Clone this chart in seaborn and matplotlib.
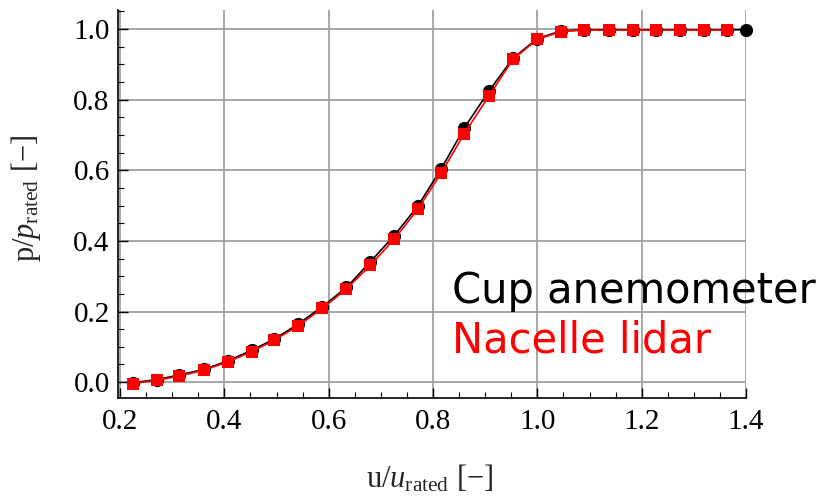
import matplotlib
matplotlib.use("Agg")
import matplotlib.pyplot as plt
import seaborn as sns
import numpy as np
import pandas as pd
from matplotlib.ticker import MultipleLocator

# data
u_cup = [0.224, 0.270, 0.313, 0.361, 0.406, 0.452, 0.496, 0.542, 0.588, 0.634,
         0.680, 0.725, 0.771, 0.816, 0.860, 0.907, 0.953, 1.000, 1.046, 1.090,
         1.137, 1.183, 1.228, 1.273, 1.320, 1.364, 1.400]
p_cup = [-0.002, 0.007, 0.020, 0.036, 0.060, 0.090, 0.122, 0.165, 0.214, 0.268,
         0.341, 0.414, 0.499, 0.605, 0.720, 0.824, 0.917, 0.973, 0.995, 0.998,
         0.998, 0.998, 0.998, 0.998, 0.998, 0.998, 0.998]
u_lidar = u_cup[:26]
p_lidar = [-0.004, 0.005, 0.017, 0.034, 0.057, 0.086, 0.119, 0.160, 0.209, 0.264,
           0.331, 0.404, 0.490, 0.593, 0.704, 0.810, 0.914, 0.971, 0.993, 0.997,
           0.997, 0.997, 0.997, 0.997, 0.997, 0.997]
xticks = [0.2, 0.4, 0.6, 0.8, 1.0, 1.2, 1.4]
yticks = [0.0, 0.2, 0.4, 0.6, 0.8, 1.0]
labels = ["Cup anemometer", "Nacelle lidar"]

sns.set_style("white")
plt.rcParams['mathtext.fontset'] = 'custom'
plt.rcParams['mathtext.rm'] = 'Liberation Serif'
plt.rcParams['mathtext.it'] = 'Liberation Serif:italic'

W, H = 824, 498
fig = plt.figure(figsize=(W / 100, H / 100), dpi=100)
ax = fig.add_axes([118 / W, 1 - 398 / H, (746 - 118) / W, (398 - 10) / H])

df_c = pd.DataFrame({"u": u_cup, "p": p_cup})
df_l = pd.DataFrame({"u": u_lidar, "p": p_lidar})
sns.lineplot(data=df_c, x="u", y="p", ax=ax, color="black", marker="o",
             markersize=9.5, markeredgewidth=0, linewidth=1.2, clip_on=False, zorder=3)
sns.lineplot(data=df_l, x="u", y="p", ax=ax, color="red", marker="s",
             markersize=8.2, markeredgewidth=0, linewidth=1.2, zorder=4)

ax.set_xlim(0.196, 1.4)
ax.set_ylim(-0.045, 1.054)
ax.set_xticks(xticks)
ax.set_yticks(yticks)
ax.set_xticklabels([f"{v:.1f}" for v in xticks])
ax.set_yticklabels([f"{v:.1f}" for v in yticks])
ax.xaxis.set_minor_locator(MultipleLocator(0.05))
ax.yaxis.set_minor_locator(MultipleLocator(0.05))
ax.grid(True, which='major', color='#a0a0a0', linewidth=1.3)
ax.set_axisbelow(True)
for s in ['top', 'right']:
    ax.spines[s].set_visible(False)
for s in ['left', 'bottom']:
    ax.spines[s].set_color('black')
    ax.spines[s].set_linewidth(1.2)
ax.tick_params(which='both', direction='in', colors='black', left=True, bottom=True)
ax.tick_params(which='major', length=7, width=1, labelsize=21)
ax.tick_params(axis='x', which='major', pad=8)
ax.tick_params(axis='y', which='major', pad=6)
ax.tick_params(which='minor', length=4, width=0.8)
for lab in ax.get_xticklabels() + ax.get_yticklabels():
    lab.set_family('Liberation Serif')

ax.set_xlabel("")
ax.set_ylabel("")
fig.text(430 / W, 1 - 487 / H, r"$\mathrm{u}/u_{\mathrm{rated}}$ [$-$]", fontsize=22,
         family='Liberation Serif', ha='center', va='baseline')
fig.text(26 / W, 1 - 198 / H, r"$\mathrm{p}/p_{\mathrm{rated}}$ [$-$]", fontsize=22,
         family='Liberation Serif', ha='center', va='center', rotation=90)

fig.text(452 / W, 1 - 303 / H, labels[0], color='black', fontsize=30,
         family='DejaVu Sans', va='baseline', ha='left')
fig.text(452 / W, 1 - 352 / H, labels[1], color='red', fontsize=30,
         family='DejaVu Sans', va='baseline', ha='left')

fig.savefig("out.png", dpi=100)
